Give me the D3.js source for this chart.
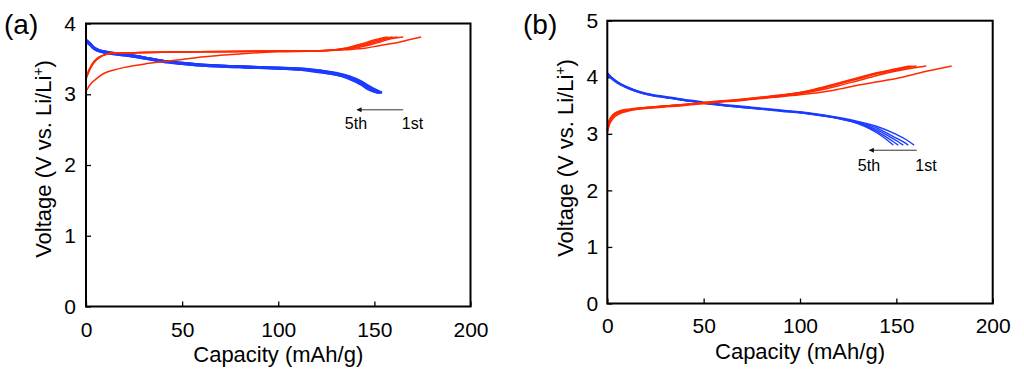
<!DOCTYPE html>
<html>
<head>
<meta charset="utf-8">
<script src="https://cdn.jsdelivr.net/npm/d3@7"></script>
<style>
  body { margin: 0; background: #fff; }
  svg { display: block; font-family: "Liberation Sans", Arial, sans-serif; }
</style>
</head>
<body>
<div id="chart"></div>
<script>
// tick values
const xTicks = [0, 50, 100, 150, 200]
const yTicksA = [0, 1, 2, 3, 4]
const yTicksB = [0, 1, 2, 3, 4, 5]

// panel (a): charge curves, cycles 1..5  [capacity, voltage]
const chargeA1 = [[0, 3.04], [2, 3.13], [5, 3.21], [9, 3.29], [14, 3.34], [20, 3.38], [31, 3.43], [40, 3.46], [50, 3.49], [58, 3.52], [70, 3.55], [85, 3.58], [100, 3.6], [120, 3.61], [135, 3.63], [145, 3.65], [153, 3.69], [160, 3.72], [168, 3.77], [174.3, 3.81]]
const chargeA2 = [[0, 3.25], [2, 3.37], [4, 3.46], [7, 3.53], [10, 3.56], [13, 3.58], [30, 3.59], [58, 3.6], [100, 3.61], [125, 3.62], [135, 3.64], [145, 3.68], [152, 3.73], [158, 3.78], [165, 3.81]]
const chargeA3 = [[0, 3.23], [2, 3.36], [4, 3.45], [7, 3.52], [10, 3.56], [13, 3.58], [30, 3.59], [58, 3.6], [100, 3.61], [125, 3.62], [135, 3.64], [145, 3.69], [151, 3.74], [156, 3.78], [162, 3.81]]
const chargeA4 = [[0, 3.22], [2, 3.35], [4, 3.45], [7, 3.52], [10, 3.56], [13, 3.58], [30, 3.59], [58, 3.6], [100, 3.61], [125, 3.62], [135, 3.65], [144, 3.7], [150, 3.75], [155, 3.79], [159.5, 3.81]]
const chargeA5 = [[0, 3.22], [2, 3.35], [4, 3.44], [7, 3.52], [10, 3.56], [13, 3.58], [30, 3.59], [58, 3.6], [100, 3.61], [125, 3.62], [135, 3.65], [143, 3.71], [149, 3.76], [153, 3.79], [157, 3.81]]

// panel (a): discharge curves, cycles 1..5
const dischargeA1 = [[0, 3.77], [2, 3.72], [4, 3.66], [7, 3.62], [12, 3.59], [23, 3.55], [30, 3.52], [40, 3.47], [50, 3.44], [58, 3.42], [80, 3.39], [100, 3.375], [113, 3.36], [122, 3.33], [130, 3.3], [137, 3.25], [143, 3.18], [148, 3.1], [154, 3.02]]
const dischargeA2 = [[0, 3.76], [2, 3.72], [4, 3.66], [7, 3.62], [12, 3.59], [23, 3.55], [30, 3.52], [40, 3.47], [50, 3.44], [58, 3.42], [80, 3.39], [100, 3.37], [113, 3.355], [122, 3.33], [130, 3.29], [137, 3.24], [143, 3.17], [148, 3.09], [153.5, 3.02]]
const dischargeA3 = [[0, 3.75], [2, 3.71], [4, 3.65], [7, 3.61], [12, 3.59], [23, 3.55], [30, 3.52], [40, 3.47], [50, 3.44], [58, 3.42], [80, 3.39], [100, 3.37], [113, 3.35], [122, 3.32], [130, 3.29], [137, 3.24], [143, 3.16], [148, 3.08], [153, 3.02]]
const dischargeA4 = [[0, 3.75], [2, 3.71], [4, 3.65], [7, 3.61], [12, 3.58], [23, 3.54], [30, 3.51], [40, 3.47], [50, 3.43], [58, 3.41], [80, 3.385], [100, 3.365], [113, 3.35], [122, 3.32], [130, 3.28], [137, 3.23], [143, 3.15], [148, 3.07], [152.5, 3.02]]
const dischargeA5 = [[0, 3.74], [2, 3.7], [4, 3.65], [7, 3.61], [12, 3.58], [23, 3.54], [30, 3.51], [40, 3.46], [50, 3.43], [58, 3.41], [80, 3.385], [100, 3.365], [113, 3.345], [122, 3.31], [130, 3.28], [137, 3.22], [143, 3.14], [147, 3.07], [152, 3.02]]

// panel (b): charge curves, cycles 1..5
const chargeB1 = [[0, 3.02], [1, 3.15], [3, 3.27], [6, 3.35], [12, 3.41], [25, 3.46], [40, 3.5], [55, 3.55], [70, 3.59], [85, 3.64], [100, 3.69], [110, 3.73], [120, 3.79], [130, 3.86], [140, 3.92], [150, 3.98], [165, 4.1], [178.7, 4.2]]
const chargeB2 = [[0, 3.04], [1, 3.19], [3, 3.3], [6, 3.37], [12, 3.42], [25, 3.47], [40, 3.51], [55, 3.56], [70, 3.6], [85, 3.65], [100, 3.71], [110, 3.77], [120, 3.85], [130, 3.94], [140, 4.03], [150, 4.11], [158, 4.16], [165.5, 4.2]]
const chargeB3 = [[0, 3.06], [1, 3.22], [3, 3.32], [6, 3.39], [12, 3.43], [25, 3.48], [40, 3.52], [55, 3.56], [70, 3.6], [85, 3.66], [100, 3.72], [110, 3.79], [120, 3.88], [130, 3.97], [140, 4.06], [150, 4.13], [160.5, 4.2]]
const chargeB4 = [[0, 3.07], [1, 3.23], [3, 3.33], [6, 3.39], [12, 3.43], [25, 3.48], [40, 3.52], [55, 3.56], [70, 3.61], [85, 3.66], [100, 3.73], [110, 3.8], [120, 3.89], [130, 3.98], [140, 4.07], [150, 4.14], [158.5, 4.2]]
const chargeB5 = [[0, 3.08], [1, 3.24], [3, 3.34], [6, 3.4], [12, 3.44], [25, 3.48], [40, 3.52], [55, 3.57], [70, 3.61], [85, 3.67], [100, 3.73], [110, 3.81], [120, 3.9], [130, 3.99], [140, 4.08], [150, 4.15], [157, 4.2]]

// panel (b): discharge curves, cycles 1..5
const dischargeB1 = [[0, 4.08], [2, 4.01], [5, 3.93], [9, 3.85], [14, 3.78], [20, 3.72], [30, 3.66], [40, 3.61], [50, 3.56], [60, 3.52], [75, 3.47], [90, 3.42], [105, 3.37], [120, 3.29], [130, 3.22], [140, 3.13], [150, 2.99], [155, 2.9], [159.2, 2.8]]
const dischargeB2 = [[0, 4.07], [2, 4.0], [5, 3.92], [9, 3.84], [14, 3.77], [20, 3.71], [30, 3.65], [40, 3.6], [50, 3.55], [60, 3.51], [75, 3.46], [90, 3.41], [105, 3.36], [120, 3.28], [130, 3.21], [140, 3.1], [148, 2.96], [153, 2.87], [156.2, 2.8]]
const dischargeB3 = [[0, 4.06], [2, 3.99], [5, 3.91], [9, 3.84], [14, 3.77], [20, 3.71], [30, 3.65], [40, 3.6], [50, 3.55], [60, 3.51], [75, 3.46], [90, 3.41], [105, 3.36], [120, 3.28], [130, 3.2], [140, 3.07], [146, 2.96], [151, 2.86], [153.6, 2.8]]
const dischargeB4 = [[0, 4.05], [2, 3.99], [5, 3.91], [9, 3.83], [14, 3.76], [20, 3.7], [30, 3.64], [40, 3.59], [50, 3.54], [60, 3.5], [75, 3.45], [90, 3.41], [105, 3.35], [120, 3.27], [130, 3.19], [138, 3.08], [144, 2.96], [148.5, 2.86], [151, 2.8]]
const dischargeB5 = [[0, 4.05], [2, 3.98], [5, 3.9], [9, 3.83], [14, 3.76], [20, 3.7], [30, 3.64], [40, 3.59], [50, 3.54], [60, 3.5], [75, 3.45], [90, 3.4], [105, 3.35], [120, 3.27], [130, 3.18], [136, 3.09], [142, 2.97], [146, 2.87], [148.4, 2.8]]

// arrow "1st -> 5th" and its labels, in data units
const arrowA = { from: [165, 2.78], to: [141, 2.78], first: [169.8, 2.51], fifth: [140.4, 2.51] }
const arrowB = { from: [160.6, 2.71], to: [136, 2.71], first: [165.4, 2.34], fifth: [135.8, 2.34] }

const red = '#ff2a00'
const blue = '#1b3bff'

const svg = d3.select('#chart')
  .append('svg')
  .attr('width', 1024)
  .attr('height', 377)

svg.append('defs')
  .append('marker')
  .attr('id', 'head')
  .attr('viewBox', '0 0 10 10')
  .attr('refX', 9)
  .attr('refY', 5)
  .attr('markerWidth', 7)
  .attr('markerHeight', 5)
  .attr('orient', 'auto')
  .append('path')
  .attr('d', 'M0,0L10,5L0,10z')
  .attr('fill', '#111')

function drawPanel (p) {
  const x = d3.scaleLinear().domain([0, 200]).range([p.left, p.right])
  const y = d3.scaleLinear().domain([0, p.yMax]).range([p.bottom, p.top])

  const g = svg.append('g')

  // x axis, ticks pointing into the plot
  g.append('g')
    .attr('transform', `translate(0,${p.bottom})`)
    .call(d3.axisBottom(x).tickValues(xTicks).tickFormat(d3.format('d'))
      .tickSizeInner(-5).tickSizeOuter(0).tickPadding(p.xPad))
    .call(a => a.select('.domain').remove())
    .call(a => a.selectAll('text').attr('font-size', 21).attr('fill', '#000').attr('font-family', null))
    .call(a => a.selectAll('line').attr('stroke', '#000').attr('stroke-width', 1.3))

  // y axis
  g.append('g')
    .attr('transform', `translate(${p.left},0)`)
    .call(d3.axisLeft(y).tickValues(p.yTicks).tickFormat(d3.format('d'))
      .tickSizeInner(-5).tickSizeOuter(0).tickPadding(p.yPad))
    .call(a => a.select('.domain').remove())
    .call(a => a.selectAll('text').attr('font-size', 21).attr('fill', '#000').attr('font-family', null))
    .call(a => a.selectAll('line').attr('stroke', '#000').attr('stroke-width', 1.3))

  const line = d3.line()
    .x(d => x(d[0]))
    .y(d => y(d[1]))
    .curve(d3.curveMonotoneX)

  g.selectAll('path.dis')
    .data(p.discharge)
    .enter()
    .append('path')
    .attr('class', 'dis')
    .attr('d', line)
    .attr('fill', 'none')
    .attr('stroke', blue)
    .attr('stroke-width', p.blueWidth)

  g.selectAll('path.chg')
    .data(p.charge)
    .enter()
    .append('path')
    .attr('class', 'chg')
    .attr('d', line)
    .attr('fill', 'none')
    .attr('stroke', red)
    .attr('stroke-width', 1.5)

  // plot frame
  g.append('rect')
    .attr('x', p.left)
    .attr('y', p.top)
    .attr('width', p.right - p.left)
    .attr('height', p.bottom - p.top)
    .attr('fill', 'none')
    .attr('stroke', '#000')
    .attr('stroke-width', 2)

  // cycle arrow
  g.append('line')
    .attr('x1', x(p.arrow.from[0]))
    .attr('y1', y(p.arrow.from[1]))
    .attr('x2', x(p.arrow.to[0]))
    .attr('y2', y(p.arrow.to[1]))
    .attr('stroke', '#333')
    .attr('stroke-width', 1)
    .attr('marker-end', 'url(#head)')

  g.append('text')
    .attr('x', x(p.arrow.fifth[0]))
    .attr('y', y(p.arrow.fifth[1]))
    .attr('text-anchor', 'middle')
    .attr('font-size', 16)
    .text('5th')

  g.append('text')
    .attr('x', x(p.arrow.first[0]))
    .attr('y', y(p.arrow.first[1]))
    .attr('text-anchor', 'middle')
    .attr('font-size', 16)
    .text('1st')

  // axis titles
  g.append('text')
    .attr('x', (p.left + p.right) / 2)
    .attr('y', p.xTitleY)
    .attr('text-anchor', 'middle')
    .attr('font-size', 22)
    .text('Capacity (mAh/g)')

  const yt = g.append('text')
    .attr('transform', `translate(${p.yTitleX},${p.yTitleMid}) rotate(-90)`)
    .attr('text-anchor', 'middle')
    .attr('font-size', 22)
  yt.append('tspan').text('Voltage (V vs. Li/Li')
  yt.append('tspan').attr('font-size', 14).attr('dy', -8).text('+')
  yt.append('tspan').attr('dy', 8).text(')')

  // panel letter
  g.append('text')
    .attr('x', p.labelX)
    .attr('y', 34)
    .attr('font-size', 28)
    .text(p.label)
}

drawPanel({
  label: '(a)', labelX: 4,
  left: 86, right: 470.5, top: 23.5, bottom: 306.5,
  yMax: 4, yTicks: yTicksA, xPad: 16, yPad: 10,
  xTitleY: 362, yTitleX: 51, yTitleMid: 159,
  charge: [chargeA1, chargeA2, chargeA3, chargeA4, chargeA5],
  discharge: [dischargeA1, dischargeA2, dischargeA3, dischargeA4, dischargeA5],
  blueWidth: 2.6,
  arrow: arrowA
})

drawPanel({
  label: '(b)', labelX: 523,
  left: 607.3, right: 992.7, top: 20.7, bottom: 303.5,
  yMax: 5, yTicks: yTicksB, xPad: 15, yPad: 9,
  xTitleY: 359, yTitleX: 573, yTitleMid: 158,
  charge: [chargeB1, chargeB2, chargeB3, chargeB4, chargeB5],
  discharge: [dischargeB1, dischargeB2, dischargeB3, dischargeB4, dischargeB5],
  blueWidth: 1.4,
  arrow: arrowB
})
</script>
</body>
</html>
